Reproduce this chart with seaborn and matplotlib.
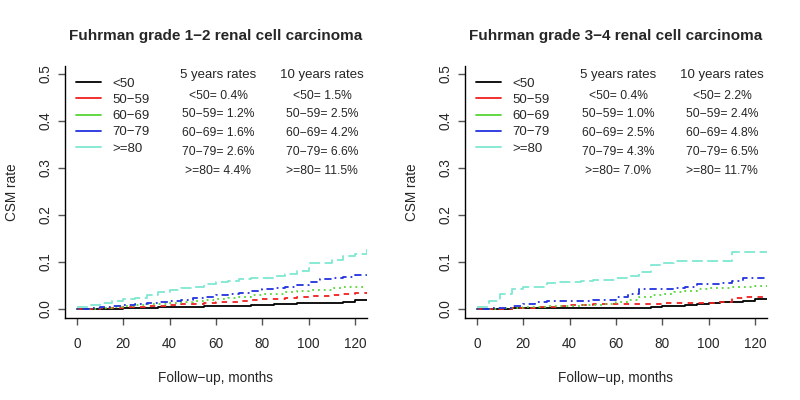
import numpy as np
import pandas as pd
import matplotlib.pyplot as plt
from matplotlib.lines import Line2D
import seaborn as sns

# ---- data ----
months = [0, 5, 10, 15, 20, 25, 30, 35, 40, 45, 50, 55, 60,
          65, 70, 75, 80, 85, 90, 95, 100, 105, 110, 115, 120, 125]
age_groups = ["<50", "50−59", "60−69", "70−79", ">=80"]

# Fuhrman grade 1-2
g12_lt50 = [0.000, 0.000, 0.001, 0.001, 0.002, 0.002, 0.003, 0.004, 0.004, 0.005, 0.005, 0.006, 0.006,
            0.007, 0.007, 0.008, 0.009, 0.010, 0.011, 0.012, 0.012, 0.013, 0.013, 0.014, 0.019, 0.019]
g12_50s = [0.000, 0.001, 0.002, 0.003, 0.004, 0.005, 0.006, 0.007, 0.009, 0.010, 0.011, 0.013, 0.014,
           0.016, 0.018, 0.020, 0.021, 0.022, 0.024, 0.026, 0.027, 0.028, 0.030, 0.032, 0.034, 0.036]
g12_60s = [0.000, 0.001, 0.003, 0.004, 0.006, 0.008, 0.010, 0.011, 0.013, 0.015, 0.017, 0.019, 0.021,
           0.023, 0.026, 0.029, 0.031, 0.033, 0.036, 0.039, 0.040, 0.040, 0.044, 0.047, 0.047, 0.048]
g12_70s = [0.001, 0.003, 0.005, 0.007, 0.009, 0.011, 0.013, 0.015, 0.017, 0.020, 0.023, 0.026, 0.029,
           0.032, 0.035, 0.038, 0.042, 0.045, 0.048, 0.052, 0.058, 0.063, 0.067, 0.069, 0.072, 0.075]
g12_80p = [0.005, 0.009, 0.013, 0.018, 0.021, 0.024, 0.030, 0.037, 0.041, 0.044, 0.048, 0.053, 0.058,
           0.060, 0.063, 0.066, 0.066, 0.070, 0.074, 0.080, 0.098, 0.099, 0.104, 0.112, 0.118, 0.128]

# Fuhrman grade 3-4
g34_lt50 = [0.000, 0.001, 0.001, 0.002, 0.002, 0.003, 0.003, 0.003, 0.003, 0.003, 0.003, 0.003, 0.003,
            0.003, 0.003, 0.004, 0.006, 0.006, 0.008, 0.010, 0.012, 0.014, 0.016, 0.017, 0.021, 0.021]
g34_50s = [0.000, 0.001, 0.001, 0.002, 0.003, 0.004, 0.005, 0.007, 0.008, 0.009, 0.010, 0.010, 0.010,
           0.011, 0.011, 0.011, 0.012, 0.012, 0.012, 0.013, 0.013, 0.016, 0.024, 0.025, 0.025, 0.025]
g34_60s = [0.000, 0.001, 0.002, 0.003, 0.004, 0.005, 0.006, 0.007, 0.007, 0.008, 0.009, 0.011, 0.015,
           0.020, 0.025, 0.029, 0.033, 0.036, 0.038, 0.042, 0.044, 0.045, 0.046, 0.048, 0.049, 0.049]
g34_70s = [0.001, 0.003, 0.003, 0.006, 0.010, 0.015, 0.017, 0.017, 0.018, 0.018, 0.019, 0.020, 0.025,
           0.033, 0.042, 0.042, 0.042, 0.044, 0.047, 0.053, 0.054, 0.055, 0.060, 0.066, 0.066, 0.066]
g34_80p = [0.005, 0.018, 0.033, 0.042, 0.046, 0.048, 0.055, 0.058, 0.058, 0.060, 0.062, 0.062, 0.066,
           0.070, 0.078, 0.094, 0.097, 0.103, 0.103, 0.103, 0.103, 0.103, 0.122, 0.122, 0.122, 0.122]

# rates printed in the panels
g12_rates_5y = ["0.4%", "1.2%", "1.6%", "2.6%", "4.4%"]
g12_rates_10y = ["1.5%", "2.5%", "4.2%", "6.6%", "11.5%"]
g34_rates_5y = ["0.4%", "1.0%", "2.5%", "4.3%", "7.0%"]
g34_rates_10y = ["2.2%", "2.4%", "4.8%", "6.5%", "11.7%"]

titles = ["Fuhrman grade 1−2 renal cell carcinoma",
          "Fuhrman grade 3−4 renal cell carcinoma"]

# ---- styling ----
colors = {"<50": "#000000", "50−59": "#F02020", "60−69": "#55D535",
          "70−79": "#2233DD", ">=80": "#7FE8D2"}
dashes = {"<50": "", "50−59": (3, 3), "60−69": (1, 2.2),
          "70−79": (1, 2.2, 4, 2.2), ">=80": (6, 2.5)}

sns.set_style("white")
plt.rcParams["font.family"] = ["Liberation Sans", "DejaVu Sans"]


def make_frame(series):
    rows = []
    for grp, vals in zip(age_groups, series):
        for m, v in zip(months, vals):
            rows.append({"month": m, "rate": v, "age": grp})
    return pd.DataFrame(rows)


panels = [
    (make_frame([g12_lt50, g12_50s, g12_60s, g12_70s, g12_80p]), g12_rates_5y, g12_rates_10y),
    (make_frame([g34_lt50, g34_50s, g34_60s, g34_70s, g34_80p]), g34_rates_5y, g34_rates_10y),
]

fig = plt.figure(figsize=(8, 4), dpi=100)
lefts = [65 / 800, 465 / 800]

for i, (df, r5, r10) in enumerate(panels):
    ax = fig.add_axes([lefts[i], 82 / 400, 302 / 800, 252 / 400])
    sns.lineplot(data=df, x="month", y="rate", hue="age", style="age",
                 palette=colors, dashes=dashes, drawstyle="steps-post",
                 estimator=None, errorbar=None, linewidth=1.3,
                 legend=False, ax=ax)

    ax.set_xlim(-5.2, 125.2)
    ax.set_ylim(-0.019, 0.517)
    ax.set_xticks([0, 20, 40, 60, 80, 100, 120])
    ax.set_yticks([0.0, 0.1, 0.2, 0.3, 0.4, 0.5])
    ax.set_yticklabels(["0.0", "0.1", "0.2", "0.3", "0.4", "0.5"],
                       rotation=90, va="center")
    ax.tick_params(axis="both", direction="out", length=5, width=1,
                   color="#555555", labelsize=9.8, left=True, bottom=True)
    ax.tick_params(axis="x", pad=9)
    ax.tick_params(axis="y", pad=4)
    for side in ["top", "right"]:
        ax.spines[side].set_visible(False)
    for side in ["left", "bottom"]:
        ax.spines[side].set_color("black")
        ax.spines[side].set_linewidth(1)

    ax.set_xlabel("Follow−up, months", fontsize=9.8, labelpad=14)
    ax.set_ylabel("CSM rate", fontsize=9.8, labelpad=14)
    ax.set_title(titles[i], fontsize=11, fontweight="bold", pad=19)

    # legend with solid lines
    handles = [Line2D([], [], color=colors[g], lw=1.3) for g in age_groups]
    ax.legend(handles, age_groups, loc="upper left", bbox_to_anchor=(0.02, 0.975),
              frameon=False, fontsize=9.5, handlelength=1.9, handletextpad=0.8,
              labelspacing=0.3, borderaxespad=0)

    # rate table
    ax.text(60.9, 0.498, "5 years rates", ha="center", va="center", fontsize=9.5)
    ax.text(105.8, 0.498, "10 years rates", ha="center", va="center", fontsize=9.5)
    ys = [0.454, 0.414, 0.374, 0.334, 0.294]
    for g, a, b, y in zip(age_groups, r5, r10, ys):
        ax.text(60.9, y, f"{g}= {a}", ha="center", va="center", fontsize=8.7)
        ax.text(105.8, y, f"{g}= {b}", ha="center", va="center", fontsize=8.7)

plt.savefig("out.png", dpi=100)
